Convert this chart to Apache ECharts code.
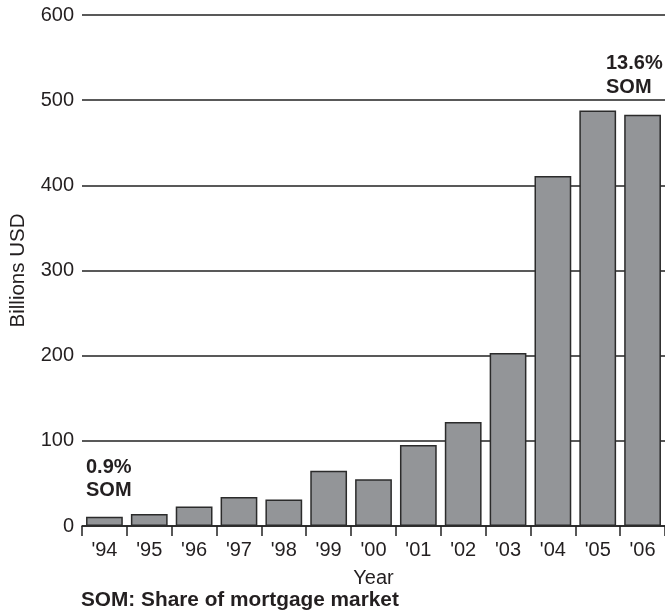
<!DOCTYPE html>
<html>
<head>
<meta charset="utf-8">
<script src="https://cdn.jsdelivr.net/npm/echarts@6/dist/echarts.min.js"></script>
<style>
html,body{margin:0;padding:0;background:#fff;}
#chart{width:665px;height:616px;}
</style>
</head>
<body>
<div id="chart"></div>
<script>
const years = ["'94","'95","'96","'97","'98","'99","'00","'01","'02","'03","'04","'05","'06"];
const values = [11, 14, 23, 34, 31, 65, 55, 95, 122, 203, 411, 488, 483];
const yTicks = [0, 100, 200, 300, 400, 500, 600];
const startNote = ["0.9%", "SOM"];
const endNote = ["13.6%", "SOM"];
const footnote = "SOM: Share of mortgage market";

const FONT = "'Liberation Sans', Arial, sans-serif";
const TXT = '#231f20';

const chart = echarts.init(document.getElementById('chart'));
chart.setOption({
  animation: false,
  grid: { left: 81, right: -1, top: 15, bottom: 90, containLabel: false },
  xAxis: {
    type: 'category',
    data: years,
    name: 'Year',
    nameLocation: 'middle',
    nameGap: 42,
    nameTextStyle: { fontFamily: FONT, fontSize: 20, color: TXT },
    axisLine: { show: true, lineStyle: { color: '#222', width: 1.5 } },
    axisTick: { show: true, length: 10, lineStyle: { color: '#222', width: 1.5 } },
    axisLabel: { fontFamily: FONT, fontSize: 20, color: TXT, margin: 14 },
    splitLine: { show: false }
  },
  yAxis: {
    type: 'value',
    min: yTicks[0],
    max: yTicks[yTicks.length - 1],
    interval: 100,
    name: 'Billions USD',
    nameLocation: 'middle',
    nameGap: 53,
    nameRotate: 90,
    nameTextStyle: { fontFamily: FONT, fontSize: 20.5, color: TXT },
    axisLine: { show: false },
    axisTick: { show: false },
    axisLabel: { fontFamily: FONT, fontSize: 20, color: TXT, margin: 8 },
    splitLine: { show: true, lineStyle: { color: '#222', width: 1.5 } }
  },
  series: [{
    type: 'bar',
    data: values,
    barCategoryGap: '18%',
    itemStyle: { color: '#939598', borderColor: '#2b2b2b', borderWidth: 1.5 }
  }],
  graphic: [
    { type: 'text', left: 86, top: 456,
      style: { text: startNote.join('\n'), font: 'bold 20px ' + FONT, fill: TXT, lineHeight: 23 } },
    { type: 'text', left: 606, top: 51,
      style: { text: endNote.join('\n'), font: 'bold 20px ' + FONT, fill: TXT, lineHeight: 24 } },
    { type: 'text', left: 81, top: 590,
      style: { text: footnote, font: 'bold 20.8px ' + FONT, fill: TXT } }
  ]
});
</script>
</body>
</html>
